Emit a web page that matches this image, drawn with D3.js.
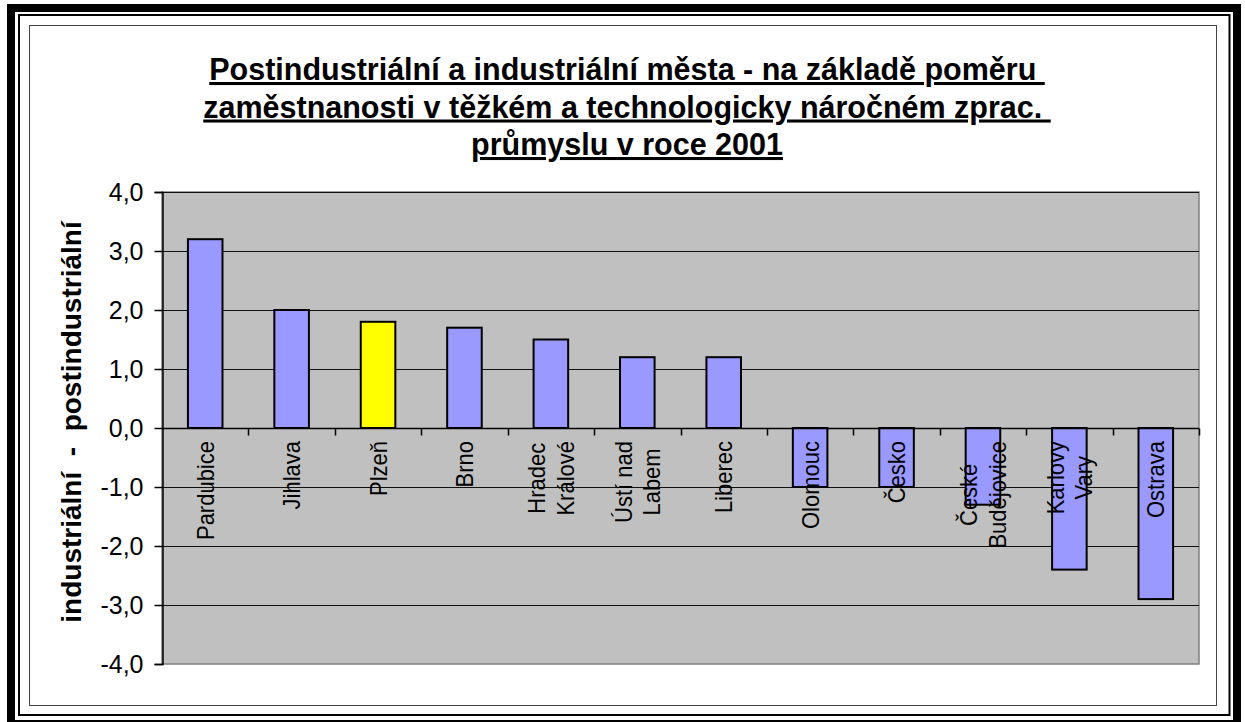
<!DOCTYPE html>
<html>
<head>
<meta charset="utf-8">
<script src="https://cdn.jsdelivr.net/npm/d3@7"></script>
<style>
  html, body { margin: 0; padding: 0; background: #fff; }
  svg { display: block; font-family: "Liberation Sans", Arial, sans-serif; }
</style>
</head>
<body>
<svg id="chart" width="1245" height="722"></svg>
<script>
// ---- data ----
const categories = ["Pardubice", "Jihlava", "Plzeň", "Brno", "Hradec Králové", "Ústí nad Labem",
  "Liberec", "Olomouc", "Česko", "České Budějovice", "Karlovy Vary", "Ostrava"];
const labelLines = [["Pardubice"], ["Jihlava"], ["Plzeň"], ["Brno"], ["Hradec", "Králové"],
  ["Ústí nad", "Labem"], ["Liberec"], ["Olomouc"], ["Česko"], ["České", "Budějovice"],
  ["Karlovy", "Vary"], ["Ostrava"]];
const values = [3.2, 2.0, 1.8, 1.7, 1.5, 1.2, 1.2, -1.0, -1.0, -1.3, -2.4, -2.9];
const highlighted = ["Plzeň"];
const yTicks = [-4, -3, -2, -1, 0, 1, 2, 3, 4];
const titleLines = ["Postindustriální a industriální města - na základě poměru ",
  "zaměstnanosti v těžkém a technologicky náročném zprac. ",
  "průmyslu v roce 2001"];
const yTitle = "industriální  -  postindustriální";

// ---- layout ----
const svg = d3.select("#chart");
const plot = { left: 162, right: 1199, top: 192, bottom: 664 };

const locale = d3.formatLocale({ decimal: ",", thousands: " ", grouping: [3], currency: ["", ""], minus: "-" });
const fmt = locale.format(".1f");

const x = d3.scaleBand().domain(categories).range([plot.left, plot.right])
  .paddingInner(0.6).paddingOuter(0.3);
const y = d3.scaleLinear().domain([-4, 4]).range([plot.bottom, plot.top]);

// frames
svg.append("rect").attr("x", 11).attr("y", 8).attr("width", 1226).attr("height", 716)
  .attr("fill", "none").attr("stroke", "#000").attr("stroke-width", 8);
svg.append("rect").attr("x", 19).attr("y", 15).attr("width", 1210.5).attr("height", 700)
  .attr("fill", "none").attr("stroke", "#000").attr("stroke-width", 2);
svg.append("rect").attr("x", 29.5).attr("y", 25.5).attr("width", 1187).attr("height", 680)
  .attr("fill", "none").attr("stroke", "#444").attr("stroke-width", 1);

// plot area
svg.append("rect").attr("x", plot.left).attr("y", plot.top)
  .attr("width", plot.right - plot.left).attr("height", plot.bottom - plot.top)
  .attr("fill", "#c0c0c0").attr("stroke", "#808080").attr("stroke-width", 1.5);

// gridlines (including the top at 4,0)
svg.append("g").selectAll("line").data(yTicks.filter(d => d > -4 && d !== 0)).join("line")
  .attr("x1", plot.left).attr("x2", plot.right)
  .attr("y1", d => Math.round(y(d)) + 0.5).attr("y2", d => Math.round(y(d)) + 0.5)
  .attr("stroke", "#111").attr("stroke-width", 1);

// y axis
const yAxis = d3.axisLeft(y).tickValues(yTicks).tickFormat(fmt).tickSize(8).tickPadding(11);
const gy = svg.append("g").attr("transform", `translate(${plot.left + 0.5},0)`).call(yAxis);
gy.select(".domain").attr("stroke", "#000").attr("stroke-width", 1.5);
gy.selectAll(".tick line").attr("stroke", "#000").attr("stroke-width", 1.5);
gy.selectAll(".tick text").attr("font-size", 25).attr("fill", "#000")
  .attr("font-family", "'Liberation Sans', Arial, sans-serif");

// bars
svg.append("g").selectAll("rect").data(categories).join("rect")
  .attr("x", d => x(d))
  .attr("width", x.bandwidth())
  .attr("y", (d, i) => y(Math.max(0, values[i])))
  .attr("height", (d, i) => Math.abs(y(values[i]) - y(0)))
  .attr("fill", d => highlighted.includes(d) ? "#ffff00" : "#9999ff")
  .attr("stroke", "#000").attr("stroke-width", 2);

// x axis at zero
const y0 = Math.round(y(0)) + 0.5;
svg.append("line").attr("x1", plot.left).attr("x2", plot.right)
  .attr("y1", y0).attr("y2", y0).attr("stroke", "#000").attr("stroke-width", 1.5);
const boundaries = d3.range(categories.length + 1).map(i => plot.left + i * x.step());
svg.append("g").selectAll("line").data(boundaries.slice(1)).join("line")
  .attr("x1", d => Math.round(d) + 0.5).attr("x2", d => Math.round(d) + 0.5)
  .attr("y1", y0).attr("y2", y0 + 7).attr("stroke", "#000").attr("stroke-width", 1.5);

// category labels (rotated, drawn over bars)
const catFs = 22, lineGap = 28.5, labelTop = 441, glyphStretch = 1.08;
const gl = svg.append("g").attr("font-size", catFs).attr("fill", "#000");
categories.forEach((c, i) => {
  const lines = labelLines[i];
  const cx = x(c) + x.bandwidth() / 2;
  let maxLen = 0;
  lines.forEach(t => {
    const tmp = gl.append("text").text(t);
    maxLen = Math.max(maxLen, tmp.node().getComputedTextLength());
    tmp.remove();
  });
  const cy = labelTop + maxLen / 2;
  lines.forEach((t, j) => {
    const off = (j - (lines.length - 1) / 2) * lineGap;
    const bx = cx + off + catFs * 0.36 * glyphStretch;
    gl.append("text")
      .attr("transform", `translate(${bx},${cy}) rotate(-90) scale(1,${glyphStretch})`)
      .attr("text-anchor", "middle")
      .text(t);
  });
});

// y title
svg.append("text")
  .attr("transform", `translate(81,${(plot.top + plot.bottom) / 2 - 6}) rotate(-90)`)
  .attr("text-anchor", "middle").attr("font-size", 28).attr("font-weight", "bold")
  .style("white-space", "pre").text(yTitle);

// title
const gt = svg.append("g");
titleLines.forEach((t, i) => {
  gt.append("text").attr("x", 627).attr("y", 80 + i * 37.5)
    .attr("text-anchor", "middle").attr("font-size", 30.5).attr("font-weight", "bold")
    .attr("text-decoration", "underline").style("white-space", "pre").text(t);
});
</script>
</body>
</html>
